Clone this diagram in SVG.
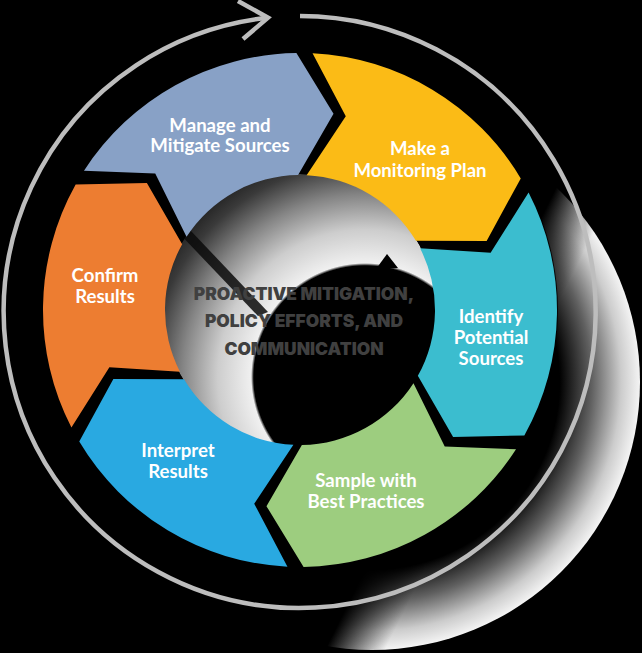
<svg xmlns="http://www.w3.org/2000/svg" width="642" height="653" viewBox="0 0 642 653">
<defs>
<style>
.lbl{font-family:Lato,"Liberation Sans",sans-serif;font-weight:700;font-size:18.6px;fill:#fff;text-anchor:middle}
.ctr{font-family:Inter,Lato,"Liberation Sans",sans-serif;font-weight:900;font-size:17.4px;fill:#404040;text-anchor:middle}
.ring{fill:none;stroke:#bdbdbd;stroke-width:4.5}
</style>
<radialGradient id="shadowOuter" gradientUnits="userSpaceOnUse" cx="372" cy="382" r="268">
<stop offset="0" stop-color="#000"/>
<stop offset="0.70" stop-color="#000"/>
<stop offset="0.82" stop-color="#606060"/>
<stop offset="0.93" stop-color="#cccccc"/>
<stop offset="1" stop-color="#f4f4f4"/>
</radialGradient>
<linearGradient id="maskGrad" gradientUnits="userSpaceOnUse" x1="520" y1="260" x2="568" y2="284">
<stop offset="0" stop-color="#000"/>
<stop offset="1" stop-color="#fff"/>
</linearGradient>
<mask id="lrMask" maskUnits="userSpaceOnUse" x="0" y="0" width="642" height="653">
<rect width="642" height="653" fill="url(#maskGrad)"/>
</mask>
<radialGradient id="holeGrad" gradientUnits="userSpaceOnUse" cx="365" cy="377" r="268">
<stop offset="0" stop-color="#000"/>
<stop offset="0.415" stop-color="#000"/>
<stop offset="0.425" stop-color="#f0f0f0"/>
<stop offset="0.55" stop-color="#cdcdcd"/>
<stop offset="0.68" stop-color="#858585"/>
<stop offset="0.8" stop-color="#3a3a3a"/>
<stop offset="0.9" stop-color="#181818"/>
<stop offset="1" stop-color="#000"/>
</radialGradient>
<clipPath id="holeClip"><circle cx="300" cy="310" r="136"/></clipPath>
</defs>
<rect width="642" height="653" fill="#000"/>
<g id="shadow">
<circle cx="372" cy="382" r="268" fill="url(#shadowOuter)" mask="url(#lrMask)"/>
<path fill="#000" opacity="0.85" fill-rule="evenodd" d="M42 310a258 258 0 1 0 516 0a258 258 0 1 0 -516 0ZM165 310a135 135 0 1 0 270 0a135 135 0 1 0 -270 0Z"/>
<g clip-path="url(#holeClip)">
<circle cx="300" cy="310" r="136" fill="url(#holeGrad)"/>
<polygon points="176,230 190,230 268,312 258,316" fill="#0a0a0a" opacity="0.85"/>
<polygon points="376,269 387,254 398,268" fill="#000"/>
</g>
</g>
<g id="connectors">
<path class="ring" d="M300 16A296 296 0 1 1 268 17.7"/>
<path class="ring" d="M238 1L268 17.7L243 39"/>
</g>
<g id="node-plan">
<path fill="#fbbb16" d="M312.55 53.31A257 257 0 0 1 520.75 178.41L486.64 240.96L415.960 240.87A135 135 0 0 0 306.59 175.16L345.78 116.34Z"/>
<text class="lbl" x="420" y="155">Make a</text>
<text class="lbl" x="420" y="177">Monitoring Plan</text>
</g>
<g id="node-identify">
<path fill="#3bbdcf" d="M528.58 192.54A257 257 0 0 1 524.34 435.38L453.11 437.12L417.84 375.86A135 135 0 0 0 420.07 248.3L490.61 252.82Z"/>
<text class="lbl" x="491" y="323">Identify</text>
<text class="lbl" x="491" y="344">Potential</text>
<text class="lbl" x="491" y="365">Sources</text>
</g>
<g id="node-sample">
<path fill="#9dcd7f" d="M516.03 449.22A257 257 0 0 1 303.59 566.97L266.47 506.15L301.88 444.99A135 135 0 0 0 413.48 383.13L444.75 446.56Z"/>
<text class="lbl" x="366" y="487">Sample with</text>
<text class="lbl" x="366" y="508">Best Practices</text>
</g>
<g id="node-interpret">
<path fill="#29a9e1" d="M287.45 566.69A257 257 0 0 1 79.25 441.59L113.36 379.04L184.04 379.13A135 135 0 0 0 293.41 444.84L254.22 503.66Z"/>
<text class="lbl" x="178" y="457">Interpret</text>
<text class="lbl" x="178" y="478">Results</text>
</g>
<g id="node-confirm">
<path fill="#ed7d31" d="M71.42 427.46A257 257 0 0 1 75.66 184.62L146.89 182.88L182.16 244.14A135 135 0 0 0 179.93 371.7L109.39 367.18Z"/>
<text class="lbl" x="105" y="282">Confirm</text>
<text class="lbl" x="105" y="303">Results</text>
</g>
<g id="node-manage">
<path fill="#88a1c6" d="M83.97 170.78A257 257 0 0 1 296.41 53.03L333.53 113.85L298.12 175.01A135 135 0 0 0 186.52 236.87L155.25 173.44Z"/>
<text class="lbl" x="220" y="132">Manage and</text>
<text class="lbl" x="220" y="152">Mitigate Sources</text>
</g>
<g id="center">
<text class="ctr" x="304" y="300">PROACTIVE MITIGATION,</text>
<text class="ctr" x="304" y="327">POLICY EFFORTS, AND</text>
<text class="ctr" x="304" y="355">COMMUNICATION</text>
</g>
</svg>
